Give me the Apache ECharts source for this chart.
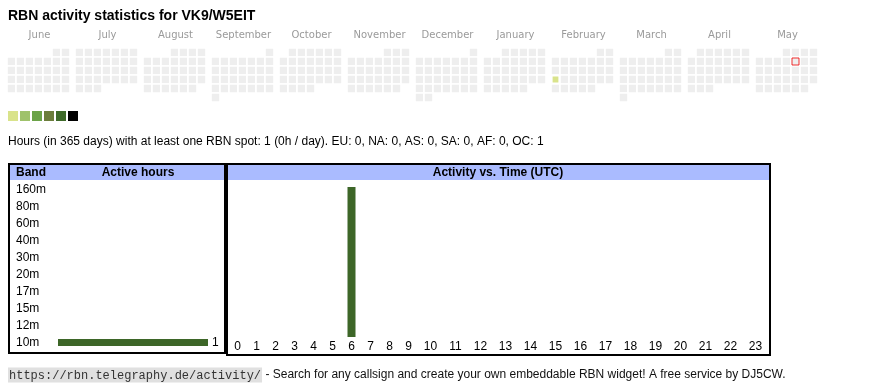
<!DOCTYPE html>
<html><head><meta charset="utf-8">
<script src="https://cdn.jsdelivr.net/npm/echarts@6/dist/echarts.min.js"></script>
<style>html,body{margin:0;padding:0;background:#fff}#c{width:870px;height:390px}</style>
</head><body><div id="c"></div>
<script>
const titleText = 'RBN activity statistics for VK9/W5EIT';
const months = ['2024-06','2024-07','2024-08','2024-09','2024-10','2024-11','2024-12','2025-01','2025-02','2025-03','2025-04','2025-05'];
const monthNames = ['June','July','August','September','October','November','December','January','February','March','April','May'];
const dailyHours = [['2025-02-17', 1]];
const markedDays = ['2025-05-09'];
const levelColors = ['#d9e38b','#9fc26b','#6ba348','#6b7d3b','#3e6a29','#000000'];
const levelPieces = [[1,1],[2,3],[4,6],[7,10],[11,15],[16,1000]];
const summaryText = 'Hours (in 365 days) with at least one RBN spot: 1 (0h / day). EU: 0, NA: 0, AS: 0, SA: 0, AF: 0, OC: 1';
const bands = ['160m','80m','60m','40m','30m','20m','17m','15m','12m','10m'];
const bandHours = [0,0,0,0,0,0,0,0,0,1];
const hours = ['0','1','2','3','4','5','6','7','8','9','10','11','12','13','14','15','16','17','18','19','20','21','22','23'];
const hourActivity = [0,0,0,0,0,0,1,0,0,0,0,0,0,0,0,0,0,0,0,0,0,0,0,0];
const headerBand = 'Band', headerActive = 'Active hours', headerTime = 'Activity vs. Time (UTC)';
const footerUrl = 'https://rbn.telegraphy.de/activity/';
const footerText = ' - Search for any callsign and create your own embeddable RBN widget! A free service by DJ5CW.';

const barColor = '#3d6628';
const sans = 'Arial, "Liberation Sans", sans-serif';
const chart = echarts.init(document.getElementById('c'), null, {renderer:'canvas'});

const calendars = months.map((m, i) => ({
  orient: 'vertical', range: m, left: 7 + 68 * i, top: 48, cellSize: [9, 9],
  splitLine: {show: false},
  itemStyle: {color: '#eeeeee', borderColor: '#ffffff', borderWidth: 1.6},
  dayLabel: {show: false, firstDay: 1}, monthLabel: {show: false}, yearLabel: {show: false}, silent: true
}));

const heatSeries = months.map((m, i) => ({
  type: 'heatmap', coordinateSystem: 'calendar', calendarIndex: i,
  data: dailyHours.filter(d => d[0].startsWith(m)),
  itemStyle: {borderColor: '#ffffff', borderWidth: 1.6}, silent: true
}));

const markSeries = markedDays.map(d => ({
  type: 'scatter', coordinateSystem: 'calendar',
  calendarIndex: months.indexOf(d.slice(0, 7)),
  data: [[d, 0]], symbol: 'rect', symbolSize: 7, silent: true,
  itemStyle: {color: '#eeeeee', borderColor: '#ee0000', borderWidth: 1}
}));

const maxBand = Math.max(...bandHours);
const maxHour = Math.max(...hourActivity);

const graphics = [];
monthNames.forEach((n, i) => graphics.push({
  type: 'text', silent: true,
  style: {x: 39.5 + 68 * i, y: 35, text: n, align: 'center', verticalAlign: 'middle',
    font: '10px "DejaVu Sans"', fill: '#9a9a9a'}
}));
graphics.push({type: 'text', silent: true, style: {x: 8, y: 142, text: summaryText, verticalAlign: 'middle', font: '12px ' + sans, fill: '#000'}});
// header fills
graphics.push({type: 'rect', silent: true, z: -10, shape: {x: 9, y: 164, width: 216, height: 16}, style: {fill: '#aabbff'}});
graphics.push({type: 'rect', silent: true, z: -10, shape: {x: 227, y: 164, width: 543, height: 16}, style: {fill: '#aabbff'}});
// boxes
graphics.push({type: 'rect', silent: true, shape: {x: 9, y: 164, width: 216, height: 189}, style: {fill: 'none', stroke: '#000', lineWidth: 2}});
graphics.push({type: 'rect', silent: true, shape: {x: 227, y: 164, width: 543, height: 191}, style: {fill: 'none', stroke: '#000', lineWidth: 2}});
graphics.push({type: 'text', silent: true, style: {x: 16, y: 173, text: headerBand, verticalAlign: 'middle', font: 'bold 12px ' + sans, fill: '#000'}});
graphics.push({type: 'text', silent: true, style: {x: 138, y: 173, text: headerActive, align: 'center', verticalAlign: 'middle', font: 'bold 12px ' + sans, fill: '#000'}});
graphics.push({type: 'text', silent: true, style: {x: 498, y: 173, text: headerTime, align: 'center', verticalAlign: 'middle', font: 'bold 12px ' + sans, fill: '#000'}});
graphics.push({type: 'text', silent: true, style: {
  x: 8, y: 375, verticalAlign: 'middle',
  text: '{u|' + footerUrl + '}{t|' + footerText + '}',
  rich: {
    u: {fontFamily: '"Liberation Mono", monospace', fontSize: 12, fill: '#333', backgroundColor: '#e0e0e0', padding: [2, 1, 1, 1]},
    t: {fontFamily: sans, fontSize: 12, fill: '#111'}
  }
}});

const option = {
  animation: false,
  title: {text: titleText, left: 8, top: 9, padding: 0, textStyle: {fontFamily: sans, fontSize: 14, fontWeight: 'bold', color: '#000'}},
  calendar: calendars,
  visualMap: {
    type: 'piecewise', orient: 'horizontal', left: 8, top: 111, padding: 0,
    itemWidth: 10, itemHeight: 10, itemGap: 2, itemSymbol: 'rect', showLabel: false,
    seriesIndex: heatSeries.map((s, i) => i),
    pieces: levelPieces.map((p, i) => ({min: p[0], max: p[1], color: levelColors[i]})),
    selectedMode: false
  },
  grid: [
    {left: 58, top: 181, width: 150, height: 170},
    {left: 228, top: 187, width: 190, height: 150},
    {left: 418, top: 187, width: 350, height: 150}
  ],
  xAxis: [
    {type: 'value', gridIndex: 0, min: 0, max: maxBand, show: false},
    {type: 'category', gridIndex: 1, data: hours.slice(0, 10), axisLine: {show: false}, axisTick: {show: false},
      axisLabel: {interval: 0, margin: 4, fontSize: 12, fontFamily: sans, color: '#000'}},
    {type: 'category', gridIndex: 2, data: hours.slice(10), axisLine: {show: false}, axisTick: {show: false},
      axisLabel: {interval: 0, margin: 4, fontSize: 12, fontFamily: sans, color: '#000'}}
  ],
  yAxis: [
    {type: 'category', gridIndex: 0, data: bands, inverse: true, axisLine: {show: false}, axisTick: {show: false},
      axisLabel: {align: 'left', margin: 42, fontSize: 12, fontFamily: sans, color: '#000'}},
    {type: 'value', gridIndex: 1, min: 0, max: maxHour, show: false, splitLine: {show: false}},
    {type: 'value', gridIndex: 2, min: 0, max: maxHour, show: false, splitLine: {show: false}}
  ],
  series: [
    ...heatSeries,
    ...markSeries,
    {type: 'bar', xAxisIndex: 0, yAxisIndex: 0, data: bandHours, barWidth: 7, itemStyle: {color: barColor}, silent: true,
      label: {show: true, position: 'right', distance: 4, fontSize: 12, fontFamily: sans, color: '#000',
        formatter: p => (p.value ? String(p.value) : '')}},
    {type: 'bar', xAxisIndex: 1, yAxisIndex: 1, data: hourActivity.slice(0, 10), barWidth: 8, itemStyle: {color: barColor}, silent: true},
    {type: 'bar', xAxisIndex: 2, yAxisIndex: 2, data: hourActivity.slice(10), barWidth: 8, itemStyle: {color: barColor}, silent: true}
  ],
  graphic: graphics
};
chart.setOption(option);
</script>
</body></html>
